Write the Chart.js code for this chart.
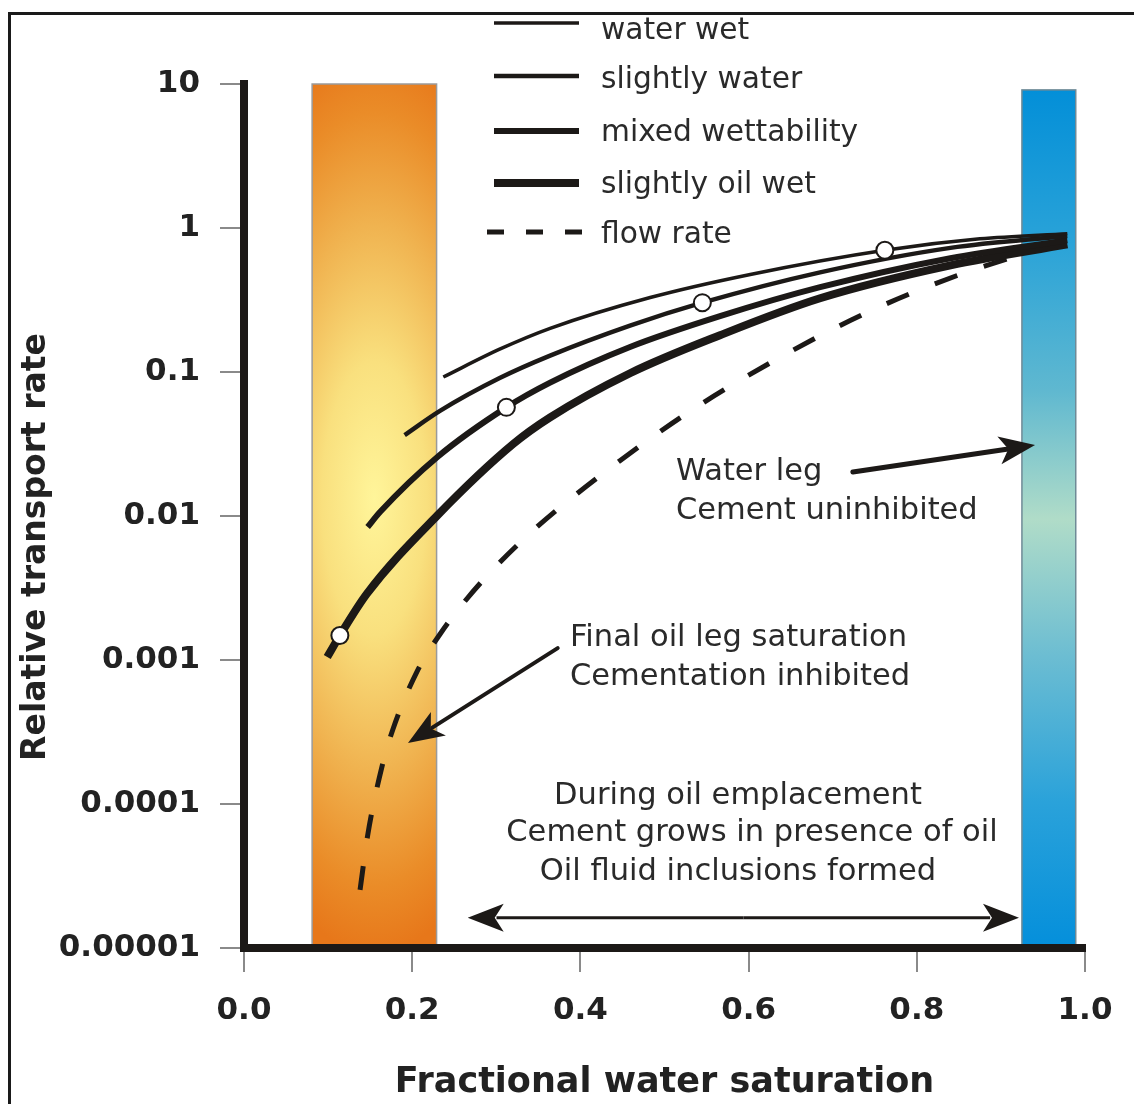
<!DOCTYPE html>
<html>
<head>
<meta charset="utf-8">
<title>Relative transport rate vs water saturation</title>
<script src="https://cdn.jsdelivr.net/npm/chart.js@4.4.1/dist/chart.umd.min.js"></script>
<style>
  html, body { margin: 0; padding: 0; background: #fff; }
  #wrap { width: 1134px; height: 1104px; }
</style>
</head>
<body>
<div id="wrap"><canvas id="my-chart" width="1134" height="1104"></canvas></div>
<script>
'use strict';

//************** DATA ********** */
// x = fractional water saturation, y = relative transport rate (log)
let waterWetX = [0.237, 0.304, 0.364, 0.483, 0.602, 0.762, 0.875, 0.979];
let waterWetY = [0.0923, 0.144, 0.201, 0.329, 0.476, 0.701, 0.841, 0.914];

let slightlyWaterX = [0.191, 0.233, 0.304, 0.364, 0.459, 0.545, 0.685, 0.840, 0.979];
let slightlyWaterY = [0.0365, 0.0537, 0.0908, 0.130, 0.210, 0.303, 0.492, 0.728, 0.881];

let mixedX = [0.147, 0.162, 0.230, 0.312, 0.364, 0.459, 0.566, 0.685, 0.840, 0.979];
let mixedY = [0.00839, 0.0107, 0.0257, 0.0568, 0.0843, 0.149, 0.244, 0.388, 0.617, 0.822];

let oilWetX = [0.099, 0.114, 0.146, 0.230, 0.320, 0.364, 0.459, 0.566, 0.685, 0.840, 0.979];
let oilWetY = [0.00105, 0.00148, 0.00288, 0.0101, 0.0316, 0.0484, 0.098, 0.180, 0.325, 0.550, 0.769];

let flowX = [0.138, 0.147, 0.164, 0.177, 0.206, 0.233, 0.260, 0.296, 0.344, 0.382, 0.447, 0.534, 0.637, 0.741, 0.848, 0.947];
let flowY = [0.0000253, 0.0000604, 0.000181, 0.000329, 0.000838, 0.00151, 0.00245, 0.00425, 0.00796, 0.0123, 0.0242, 0.0551, 0.126, 0.259, 0.468, 0.721];

// open circles sitting on the curves
let markerX = [0.762, 0.545, 0.312, 0.114];
let markerY = [0.701, 0.303, 0.0568, 0.00148];

// shaded zones: [x from, x to], top value
let oilLegX = [0.081, 0.229];
let oilLegTop = 10;
let waterLegX = [0.925, 0.989];
let waterLegTop = 9.1;

let yTickValues = [0.00001, 0.0001, 0.001, 0.01, 0.1, 1, 10];
let yTickLabels = ['0.00001', '0.0001', '0.001', '0.01', '0.1', '1', '10'];

//************ HELPERS ********* */
const FONT = '"DejaVu Sans", "Liberation Sans", Arial, sans-serif';
const INK = '#1c1917';
const TEXT = '#2a2a2a';

function toPoints(xs, ys) {
  let pts = [];
  for (let i = 0; i < xs.length; i++) {
    pts.push({ x: xs[i], y: ys[i] });
  }
  return pts;
}

function curve(label, xs, ys, width, dash) {
  return {
    label: label,
    data: toPoints(xs, ys),
    showLine: true,
    borderColor: INK,
    borderWidth: width,
    borderDash: dash || [],
    pointRadius: 0,
    cubicInterpolationMode: 'monotone',
    borderJoinStyle: 'round',
    order: 2,
    inLegend: true
  };
}

function drawArrow(ctx, x1, y1, x2, y2, lw, headLen, headW) {
  let ang = Math.atan2(y2 - y1, x2 - x1);
  let c = Math.cos(ang);
  let s = Math.sin(ang);
  ctx.beginPath();
  ctx.lineWidth = lw;
  ctx.moveTo(x1, y1);
  ctx.lineTo(x2 - c * headLen * 0.8, y2 - s * headLen * 0.8);
  ctx.stroke();
  ctx.beginPath();
  ctx.moveTo(x2, y2);
  ctx.lineTo(x2 - c * headLen + s * headW / 2, y2 - s * headLen - c * headW / 2);
  ctx.lineTo(x2 - c * headLen * 0.75, y2 - s * headLen * 0.75);
  ctx.lineTo(x2 - c * headLen - s * headW / 2, y2 - s * headLen + c * headW / 2);
  ctx.closePath();
  ctx.fill();
}

//************ PLUGINS ********* */
// background, frame and the two coloured zones (under the axes)
let zonesPlugin = {
  id: 'zones',
  beforeDraw(chart) {
    let ctx = chart.ctx;
    let xs = chart.scales.x;
    let ys = chart.scales.y;
    ctx.save();
    ctx.fillStyle = '#fff';
    ctx.fillRect(0, 0, chart.width, chart.height);

    ctx.strokeStyle = '#1a1a1a';
    ctx.lineWidth = 3;
    ctx.strokeRect(9.5, 13.5, 1300, 1300);

    let bottom = ys.getPixelForValue(ys.min);

    // oil leg (orange)
    let ox1 = xs.getPixelForValue(oilLegX[0]);
    let ox2 = xs.getPixelForValue(oilLegX[1]);
    let oy = ys.getPixelForValue(oilLegTop);
    let ocx = ox1 + (ox2 - ox1) * 0.5;
    let ocy = oy + (bottom - oy) * 0.48;
    ctx.save();
    ctx.beginPath();
    ctx.rect(ox1, oy, ox2 - ox1, bottom - oy);
    ctx.clip();
    ctx.translate(ocx, ocy);
    ctx.scale(1, 2.6);
    let g = ctx.createRadialGradient(0, 0, 0, 0, 0, 175);
    g.addColorStop(0, '#fff59a');
    g.addColorStop(0.3, '#f9e07e');
    g.addColorStop(0.6, '#f0b350');
    g.addColorStop(0.85, '#ea8c28');
    g.addColorStop(1, '#e7771a');
    ctx.fillStyle = g;
    ctx.fillRect(-300, -400, 600, 800);
    ctx.restore();
    ctx.strokeStyle = '#9a9a9a';
    ctx.lineWidth = 1.5;
    ctx.strokeRect(ox1, oy, ox2 - ox1, bottom - oy);

    // water leg (blue)
    let wx1 = xs.getPixelForValue(waterLegX[0]);
    let wx2 = xs.getPixelForValue(waterLegX[1]);
    let wy = ys.getPixelForValue(waterLegTop);
    let bg = ctx.createLinearGradient(0, wy, 0, bottom);
    bg.addColorStop(0, '#038fd8');
    bg.addColorStop(0.18, '#2aa3d8');
    bg.addColorStop(0.35, '#5fb8d0');
    bg.addColorStop(0.5, '#b0dcc8');
    bg.addColorStop(0.66, '#6cbdd2');
    bg.addColorStop(0.83, '#2aa2da');
    bg.addColorStop(1, '#048fdb');
    ctx.fillStyle = bg;
    ctx.fillRect(wx1, wy, wx2 - wx1, bottom - wy);
    ctx.strokeStyle = '#6f8a96';
    ctx.strokeRect(wx1, wy, wx2 - wx1, bottom - wy);
    ctx.restore();
  }
};

// legend block at the top
let legendPlugin = {
  id: 'wettLegend',
  afterDraw(chart) {
    let ctx = chart.ctx;
    let items = chart.data.datasets.filter(d => d.inLegend);
    let lineY = [23, 76, 131, 183, 232];
    let textY = [39, 88, 141, 193, 243];
    ctx.save();
    ctx.strokeStyle = INK;
    ctx.fillStyle = TEXT;
    ctx.font = '29.7px ' + FONT;
    ctx.textBaseline = 'alphabetic';
    ctx.textAlign = 'left';
    items.forEach((d, i) => {
      ctx.beginPath();
      ctx.lineWidth = d.borderWidth;
      if (d.borderDash.length) {
        ctx.setLineDash([17, 22]);
        ctx.moveTo(487, lineY[i]);
        ctx.lineTo(583, lineY[i]);
      } else {
        ctx.setLineDash([]);
        ctx.moveTo(494, lineY[i]);
        ctx.lineTo(579, lineY[i]);
      }
      ctx.stroke();
      ctx.setLineDash([]);
      ctx.fillText(d.label, 601, textY[i]);
    });
    ctx.restore();
  }
};

// annotation texts, arrows and y title
let notesPlugin = {
  id: 'notes',
  afterDatasetsDraw(chart) {
    let ctx = chart.ctx;
    let xs = chart.scales.x;
    let ys = chart.scales.y;
    let px = v => xs.getPixelForValue(v);
    let py = v => ys.getPixelForValue(v);
    ctx.save();
    ctx.fillStyle = TEXT;
    ctx.font = '30.5px ' + FONT;
    ctx.textBaseline = 'middle';

    ctx.textAlign = 'left';
    ctx.fillText('Water leg', 676, 472);
    ctx.fillText('Cement uninhibited', 676, 511);
    ctx.fillText('Final oil leg saturation', 570, 638);
    ctx.fillText('Cementation inhibited', 570, 677);

    ctx.textAlign = 'center';
    ctx.fillText('During oil emplacement', 738, 796);
    ctx.fillText('Cement grows in presence of oil', 752, 833);
    ctx.fillText('Oil fluid inclusions formed', 738, 872);

    ctx.strokeStyle = INK;
    ctx.fillStyle = INK;
    ctx.lineCap = 'round';
    // water leg arrow
    drawArrow(ctx, px(0.724), py(0.0202), px(0.9406), py(0.0311), 5, 36, 28);
    // final oil leg arrow
    drawArrow(ctx, px(0.373), py(0.00121), px(0.195), py(0.000265), 4, 36, 28);
    // double arrow across the emplacement range
    let ay = py(0.0000162);
    let ax1 = px(0.266);
    let ax2 = px(0.9215);
    let mid = (ax1 + ax2) / 2;
    ctx.lineCap = 'butt';
    drawArrow(ctx, mid, ay, ax2, ay, 3, 36, 28);
    drawArrow(ctx, mid, ay, ax1, ay, 3, 36, 28);

    // y axis title
    ctx.fillStyle = '#222';
    ctx.font = 'bold 33px ' + FONT;
    ctx.translate(36, 547);
    ctx.rotate(-Math.PI / 2);
    ctx.textAlign = 'center';
    ctx.fillText('Relative transport rate', 0, 0);
    ctx.restore();
  }
};

//************ CHART ********* */
let ctx = document.getElementById('my-chart');

let chartObj = {
  type: 'scatter',
  data: {
    datasets: [
      {
        label: 'markers',
        data: toPoints(markerX, markerY),
        pointRadius: 8.5,
        pointBackgroundColor: '#ffffff',
        pointBorderColor: INK,
        pointBorderWidth: 2,
        showLine: false,
        order: 0
      },
      curve('water wet', waterWetX, waterWetY, 3.5),
      curve('slightly water', slightlyWaterX, slightlyWaterY, 4.5),
      curve('mixed wettability', mixedX, mixedY, 6),
      curve('slightly oil wet', oilWetX, oilWetY, 8),
      curve('flow rate', flowX, flowY, 5, [24, 28])
    ]
  },
  options: {
    responsive: false,
    devicePixelRatio: 1,
    animation: false,
    layout: { padding: { top: 84, right: 49, left: 0, bottom: 0 } },
    plugins: {
      legend: { display: false },
      tooltip: { enabled: false }
    },
    scales: {
      x: {
        type: 'linear',
        min: 0,
        max: 1,
        afterFit: s => { s.height = 156; },
        ticks: {
          stepSize: 0.2,
          padding: 20,
          color: '#222',
          font: { family: FONT, size: 31, weight: 'bold' },
          callback: v => v.toFixed(1)
        },
        grid: {
          drawOnChartArea: false,
          drawTicks: true,
          tickLength: 24,
          color: '#8a8a8a',
          lineWidth: 2
        },
        border: { display: true, color: INK, width: 8 },
        title: {
          display: true,
          text: 'Fractional water saturation',
          color: '#222',
          font: { family: FONT, size: 35, weight: 'bold' },
          padding: { top: 0, bottom: 0 }
        }
      },
      y: {
        type: 'logarithmic',
        min: 0.00001,
        max: 10,
        afterFit: s => { s.width = 244; },
        afterBuildTicks: s => {
          s.ticks = yTickValues.map(v => ({ value: v }));
        },
        ticks: {
          padding: 20,
          color: '#222',
          font: { family: FONT, size: 31, weight: 'bold' },
          callback: v => {
            let i = yTickValues.findIndex(t => Math.abs(Math.log10(t) - Math.log10(v)) < 0.01);
            return i >= 0 ? yTickLabels[i] : '';
          }
        },
        grid: {
          drawOnChartArea: false,
          drawTicks: true,
          tickLength: 24,
          color: '#8a8a8a',
          lineWidth: 2
        },
        border: { display: true, color: INK, width: 8 }
      }
    }
  },
  plugins: [zonesPlugin, notesPlugin, legendPlugin]
};

new Chart(ctx, chartObj);
</script>
</body>
</html>
